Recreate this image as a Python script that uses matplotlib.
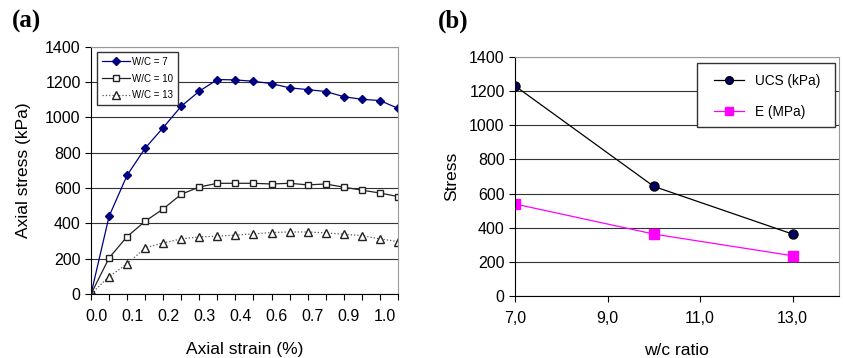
import numpy as np
import matplotlib.pyplot as plt
from matplotlib.patches import Rectangle
from matplotlib.transforms import ScaledTranslation

plt.rcParams['font.family'] = ['Liberation Sans', 'DejaVu Sans']

# (a) stress-strain curves, one point per reading
rotulos_x = ["0.0", "0.1", "0.2", "0.3", "0.4", "0.6", "0.7", "0.9", "1.0"]
wc7 = [0, 440, 673, 826, 943, 1064, 1149, 1215, 1213, 1205, 1192, 1168, 1158, 1147, 1118, 1103, 1096, 1052]
wc10 = [0, 204, 325, 412, 482, 565, 606, 627, 627, 627, 623, 627, 618, 623, 605, 588, 572, 552]
wc13 = [0, 98, 170, 261, 289, 312, 323, 327, 334, 340, 348, 351, 351, 346, 338, 331, 312, 297]

# (b) resistencia vs relacao w/c
razao_wc = [7.0, 10.0, 13.0]
ucs = [1230, 642, 363]
modulo_e = [539, 363, 236]

fig = plt.figure(figsize=(8.43, 3.58), dpi=100)

# ---------- (a) ----------
ax1 = fig.add_axes([0.108, 0.179, 0.364, 0.690])
idx = np.arange(len(wc7))
ax1.plot(idx, wc7, color='#000080', lw=0.9, marker='D', ms=4.5, mfc='#000080', mec='#000080', label='W/C = 7')
ax1.plot(idx, wc10, color='#222222', lw=0.9, marker='s', ms=5, mfc='white', mec='#222222', label='W/C = 10')
ax1.plot(idx, wc13, color='#555555', lw=0.9, ls=':', marker='^', ms=5.5, mfc='white', mec='#222222', label='W/C = 13')

ax1.set_xlim(0, len(wc7) - 1)
ax1.set_ylim(0, 1400)
ax1.set_yticks(range(0, 1401, 200))
ax1.set_xticks(idx)
ax1.set_xticklabels([rotulos_x[i // 2] if i % 2 == 0 else "" for i in idx])
ax1.tick_params(direction='out', length=4, width=0.8, labelsize=11.5, colors='black')
ax1.tick_params(axis='x', pad=7)
# rotulos do eixo x ficam um pouco a direita do tick, como no Excel
desloc = ScaledTranslation(5 / 100, 0, fig.dpi_scale_trans)
for rot in ax1.get_xticklabels():
    rot.set_transform(rot.get_transform() + desloc)
ax1.yaxis.grid(True, color='#333333', lw=0.8)
ax1.set_axisbelow(True)
for lado in ['top', 'right']:
    ax1.spines[lado].set_color('#999999')
ax1.set_xlabel("Axial strain (%)", fontsize=12.5, labelpad=13)
ax1.set_ylabel("Axial stress (kPa)", fontsize=12.5, labelpad=10)
leg1 = ax1.legend(loc='upper left', bbox_to_anchor=(0.02, 0.98), borderaxespad=0, fontsize=7,
                  fancybox=False, edgecolor='#333333', framealpha=1, borderpad=0.5,
                  labelspacing=0.7, handlelength=2.9, handletextpad=0.2)
leg1.get_frame().set_linewidth(1.0)
fig.text(0.0142, 0.972, "(a)", fontsize=18, fontweight='bold', family='Liberation Serif', va='top')

# ---------- (b) ----------
ax2 = fig.add_axes([0.611, 0.173, 0.384, 0.668])
ax2.plot(razao_wc, ucs, color='black', lw=0.9, marker='o', ms=6.5, mfc='#000066', mec='black', label='UCS (kPa)')
ax2.plot(razao_wc, modulo_e, color='#ff00ff', lw=0.9, marker='s', ms=6.5, mfc='#ff00ff', mec='#ff00ff', label='E (MPa)')
ax2.set_xlim(7, 14)
ax2.set_ylim(0, 1400)
ax2.set_xticks([7, 9, 11, 13])
ax2.set_xticklabels(["7,0", "9,0", "11,0", "13,0"])
ax2.set_yticks(range(0, 1401, 200))
ax2.tick_params(direction='out', length=4, width=0.8, labelsize=11.5, colors='black')
ax2.tick_params(axis='x', pad=7)
ax2.yaxis.grid(True, color='#333333', lw=0.8)
ax2.set_axisbelow(True)
for lado in ['top', 'right']:
    ax2.spines[lado].set_color('#999999')
ax2.set_xlabel("w/c ratio", fontsize=12.5, labelpad=12)
ax2.set_ylabel("Stress", fontsize=12.5, labelpad=7)

# moldura da legenda desenhada a parte (mais folga lateral que a do matplotlib)
caixa = Rectangle((0.562, 0.707), 0.426, 0.268, transform=ax2.transAxes, facecolor='white',
                  edgecolor='#333333', lw=1.0, zorder=4)
ax2.add_patch(caixa)
leg2 = ax2.legend(loc='center', bbox_to_anchor=(0.78, 0.835), borderaxespad=0, fontsize=9.8,
                  frameon=False, borderpad=0, labelspacing=1.3, handlelength=2.2, markerscale=0.85)
leg2.set_zorder(5)
fig.text(0.52, 0.972, "(b)", fontsize=18, fontweight='bold', family='Liberation Serif', va='top')

fig.savefig("out.png", dpi=100)
